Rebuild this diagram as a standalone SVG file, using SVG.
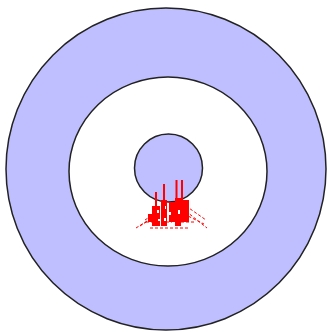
<svg xmlns="http://www.w3.org/2000/svg" width="329" height="332" viewBox="0 0 329 332">
<style>
.ring{stroke:#222;stroke-width:1.5}
.red{stroke:#f00;fill:none}
.dash{stroke:#f00;stroke-width:1;stroke-dasharray:3 2;fill:none}
</style>
<rect width="329" height="332" fill="#fff"/>
<g id="outer"><ellipse class="ring" cx="166" cy="169" rx="160" ry="161" fill="#bfbfff"/></g>
<g id="middle"><ellipse class="ring" cx="168" cy="171.5" rx="99" ry="94.5" fill="#fff"/></g>
<g id="inner"><circle class="ring" cx="168.5" cy="168" r="34" fill="#bfbfff"/></g>
<g id="red">
<g class="dash">
<path d="M136 228 L158 214"/><path d="M140 226 L162 212"/><path d="M145 220 L160 210"/>
<path d="M182 208 L207 228"/><path d="M184 214 L204 224"/><path d="M186 206 L206 220"/>
<path d="M150 228 L190 228"/><path d="M146 222 L196 222"/>
</g>
<g fill="#f00">
<rect x="152" y="206" width="8" height="20"/>
<rect x="148" y="214" width="6" height="8"/>
<rect x="161" y="200" width="6" height="26"/>
<rect x="169" y="202" width="6" height="20"/>
<rect x="175" y="198" width="6" height="28"/>
<rect x="181" y="200" width="8" height="22"/>
</g>
<g fill="#fff">
<rect x="157" y="210" width="2" height="3"/>
<rect x="164" y="206" width="2" height="3"/>
<rect x="168" y="212" width="3" height="3"/>
<rect x="178" y="210" width="2" height="4"/>
<rect x="158" y="219" width="3" height="2"/>
<rect x="172" y="222" width="3" height="3"/>
<rect x="164" y="218" width="2" height="3"/>
</g>
<g class="red" stroke-width="2">
<path d="M156 192 V212"/><path d="M164 184 V210"/><path d="M176.5 180 V210"/><path d="M182 180 V210"/>
</g>
</g>
</svg>
